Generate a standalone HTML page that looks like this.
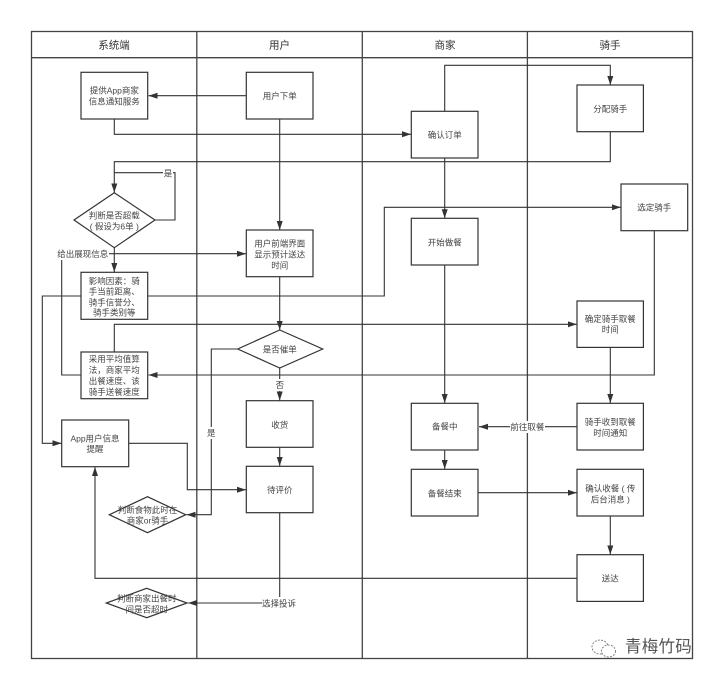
<!DOCTYPE html>
<html lang="zh">
<head>
<meta charset="utf-8">
<title>外卖流程泳道图</title>
<style>
html,body{margin:0;padding:0;background:#fff;width:714px;height:680px;overflow:hidden}
svg{display:block;filter:blur(.3px)}
text{font-family:"Liberation Sans","Noto Sans CJK SC",sans-serif;font-size:8.5px;fill:#444;text-anchor:middle;dominant-baseline:central}
.h{font-size:10.5px;fill:#333}
.l{fill:none;stroke:#333;stroke-width:1.1}
.b{fill:#fff;stroke:#333;stroke-width:1.2}
.s{fill:none;stroke:#444;stroke-width:1.3}
.w{fill:#fff}
</style>
</head>
<body>
<svg width="714" height="680" viewBox="0 0 714 680" xmlns="http://www.w3.org/2000/svg">
<defs>
<marker id="a" markerUnits="userSpaceOnUse" markerWidth="10" markerHeight="8" refX="9" refY="4" orient="auto">
<path d="M0,1 L9,4 L0,7 Z" fill="#333"/>
</marker>
</defs>
<rect width="714" height="680" fill="#fff"/>

<!-- swimlanes -->
<rect class="s" x="31.5" y="31.5" width="661" height="627"/>
<path class="s" d="M31.5 57.7H692.5M196.8 31.5V658.5M362.3 31.5V658.5M527.4 31.5V658.5"/>
<text class="h" x="114" y="45.3">系统端</text>
<text class="h" x="279.5" y="45.3">用户</text>
<text class="h" x="445" y="45.3">商家</text>
<text class="h" x="610" y="45.3">骑手</text>

<!-- connectors -->
<g class="l">
<path marker-end="url(#a)" d="M246.3 95.7H148.5"/>
<path marker-end="url(#a)" d="M114.3 119V134.3H411"/>
<path marker-end="url(#a)" d="M444.7 111.3V65.3H610.3V85"/>
<path marker-end="url(#a)" d="M610.3 131.7V161.7H114.3V192.5"/>
<path d="M155 220H175V172.7H114.3"/>
<path marker-end="url(#a)" d="M114.3 247.7V272"/>
<path marker-end="url(#a)" d="M114.3 253.7H246"/>
<path d="M114.3 253.7H61.7V375H81"/>
<path marker-end="url(#a)" d="M81 296H42.3V443.3H61.5"/>
<path marker-end="url(#a)" d="M147.7 296H384.3V207.3H620.8"/>
<path marker-end="url(#a)" d="M279.7 119V230"/>
<path marker-end="url(#a)" d="M279.7 276.7V330"/>
<path marker-end="url(#a)" d="M114.3 352V324.3H576.8"/>
<path marker-end="url(#a)" d="M444.7 158V218.2"/>
<path marker-end="url(#a)" d="M444.7 265V403"/>
<path marker-end="url(#a)" d="M654.3 230.7V375H148.5"/>
<path marker-end="url(#a)" d="M610.3 347.3V403"/>
<path marker-end="url(#a)" d="M577 426.7H479"/>
<path marker-end="url(#a)" d="M444.7 450V469"/>
<path marker-end="url(#a)" d="M478 492.7H576.8"/>
<path marker-end="url(#a)" d="M610.3 516V554.5"/>
<path marker-end="url(#a)" d="M577 578.3H95V467"/>
<path marker-end="url(#a)" d="M128.7 443.3H187.3V489.7H246"/>
<path marker-end="url(#a)" d="M237.7 349H211.3V514.7H186.5"/>
<path marker-end="url(#a)" d="M279.7 368V400.5"/>
<path marker-end="url(#a)" d="M279.7 447.3V466"/>
<path marker-end="url(#a)" d="M279.7 512.7V603H188"/>
</g>

<!-- boxes -->
<g class="b">
<rect x="81" y="72.3" width="66.7" height="46.7"/>
<rect x="246.3" y="72.3" width="66.7" height="46.7"/>
<rect x="246.3" y="230" width="66.7" height="46.7"/>
<rect x="81" y="272.3" width="66.7" height="47"/>
<rect x="81" y="352" width="66.7" height="46.7"/>
<rect x="61.7" y="420" width="67" height="46.7"/>
<rect x="246.3" y="400.7" width="66.7" height="46.6"/>
<rect x="246.3" y="466.3" width="66.7" height="46.4"/>
<rect x="411.3" y="111.3" width="66.7" height="46.7"/>
<rect x="577" y="85" width="66.4" height="46.7"/>
<rect x="621" y="184" width="66.7" height="46.7"/>
<rect x="411.3" y="218.3" width="66.7" height="46.7"/>
<rect x="577" y="301" width="66.4" height="46.4"/>
<rect x="411.3" y="403.3" width="66.7" height="46.7"/>
<rect x="411.3" y="469.3" width="66.7" height="46.7"/>
<rect x="577" y="403.3" width="66.4" height="46.7"/>
<rect x="577" y="469.3" width="66.4" height="46.7"/>
<rect x="577" y="554.7" width="66.4" height="46.7"/>
<polygon points="114.3,192.7 155,220 114.3,247.7 74,220"/>
<polygon points="279.7,330 322.7,349 279.7,368 237.7,349"/>
<polygon points="147.5,496.7 185.7,514.7 147.5,532.7 109.3,514.7"/>
<polygon points="146.7,588.3 187,603 146.7,617.7 106.3,603"/>
</g>

<!-- label backgrounds -->
<rect class="w" x="163" y="168" width="10" height="11"/>
<rect class="w" x="57" y="248" width="52" height="12"/>
<rect class="w" x="206" y="427" width="10" height="12"/>
<rect class="w" x="275" y="379" width="10" height="12"/>
<rect class="w" x="262" y="597" width="35" height="12"/>
<rect class="w" x="510" y="421" width="35" height="12"/>

<!-- node text -->
<text x="114.3" y="90.7">提供App商家</text>
<text x="114.3" y="101.7">信息通知服务</text>
<text x="279.7" y="96">用户下单</text>
<text x="114.3" y="215.7">判断是否超载</text>
<text x="114.3" y="226.7">( 假设为6单 )</text>
<text x="279.7" y="243.3">用户前端界面</text>
<text x="279.7" y="254.3">显示预计送达</text>
<text x="279.7" y="265.7">时间</text>
<text x="114.3" y="281">影响因素：骑</text>
<text x="114.3" y="291.7">手当前距离、</text>
<text x="114.3" y="302.3">骑手信誉分、</text>
<text x="114.3" y="312.7">骑手类别等</text>
<text x="114.3" y="359">采用平均值算</text>
<text x="114.3" y="370">法，商家平均</text>
<text x="114.3" y="381">出餐速度、该</text>
<text x="114.3" y="392">骑手送餐速度</text>
<text x="95" y="438.3">App用户信息</text>
<text x="95" y="449">提醒</text>
<text x="279.7" y="349.3">是否催单</text>
<text x="279.7" y="425">收货</text>
<text x="279.7" y="490">待评价</text>
<text x="147.5" y="510">判断食物此时在</text>
<text x="147.5" y="520.3">商家or骑手</text>
<text x="146.7" y="598.3">判断商家出餐时</text>
<text x="146.7" y="609.3">间是否超时</text>
<text x="444.7" y="135">确认订单</text>
<text x="610.3" y="109">分配骑手</text>
<text x="654.3" y="207.7">选定骑手</text>
<text x="444.7" y="242.3">开始做餐</text>
<text x="610.3" y="319">确定骑手取餐</text>
<text x="610.3" y="329.3">时间</text>
<text x="444.7" y="426.7">备餐中</text>
<text x="444.7" y="493.3">备餐结束</text>
<text x="610.3" y="422">骑手收到取餐</text>
<text x="610.3" y="433">时间通知</text>
<text x="610.3" y="488.3">确认收餐 ( 传</text>
<text x="610.3" y="499.3">后台消息 )</text>
<text x="610.3" y="578.3">送达</text>

<!-- connector labels -->
<text x="168" y="173.5">是</text>
<text x="82.7" y="254">给出展现信息</text>
<text x="211.3" y="433">是</text>
<text x="279.7" y="385">否</text>
<text x="279" y="603.5">选择投诉</text>
<text x="527.4" y="427">前往取餐</text>

<!-- watermark -->
<g fill="none" stroke="#666" stroke-width=".8">
<ellipse cx="600" cy="647" rx="8" ry="7" stroke-dasharray="2 1.3"/>
<ellipse cx="608.5" cy="651" rx="7" ry="6" fill="#fff" stroke-dasharray="2 1.3"/>
</g>
<text x="658.5" y="647" style="font-size:16.5px;fill:#555;letter-spacing:.3px">青梅竹码</text>
</svg>
</body>
</html>
